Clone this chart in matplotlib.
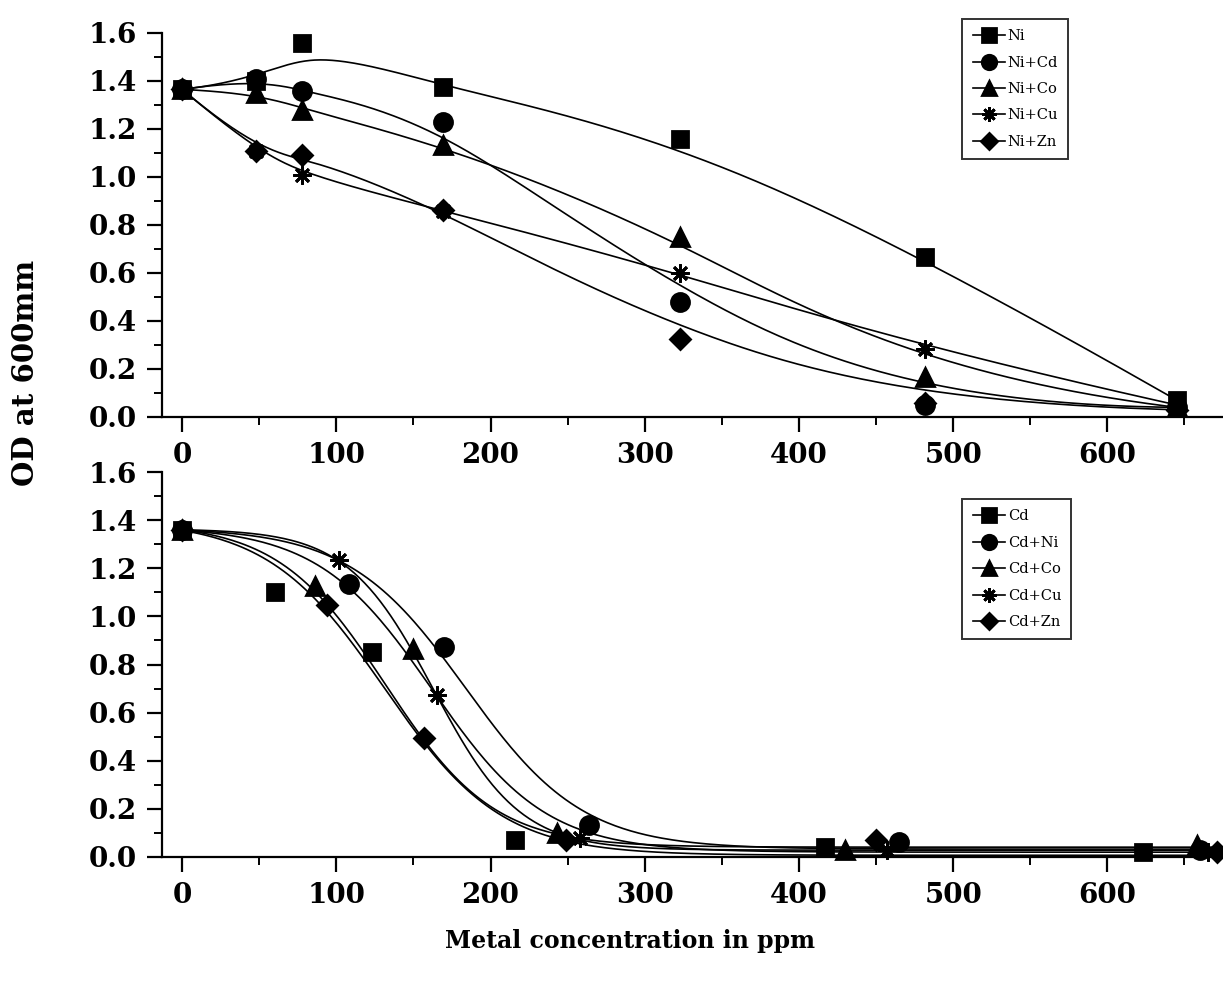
import numpy as np
import matplotlib
matplotlib.use("Agg")
import matplotlib.pyplot as plt
from matplotlib.ticker import MultipleLocator

# 上图: Ni 系列 (x 为 ppm, y 为 OD)
ni_x = [0, 48, 78, 169, 323, 482, 645]
ni = [1.365, 1.40, 1.557, 1.373, 1.16, 0.668, 0.07]
ni_cd = [1.365, 1.41, 1.358, 1.231, 0.48, 0.05, 0.04]
ni_co = [1.365, 1.35, 1.281, 1.135, 0.751, 0.168, 0.04]
ni_cu = [1.365, 1.107, 1.01, 0.86, 0.601, 0.283, 0.05]
ni_zn = [1.365, 1.107, 1.093, 0.864, 0.326, 0.058, 0.03]

# 下图: Cd 系列, 每个系列自己的 x
cd_x = [0, 60, 123, 216, 417, 623]
cd = [1.36, 1.10, 0.85, 0.07, 0.04, 0.02]
cd_ni_x = [0, 108, 170, 264, 465, 660]
cd_ni = [1.36, 1.135, 0.874, 0.133, 0.064, 0.03]
cd_co_x = [0, 86, 150, 243, 430, 658]
cd_co = [1.36, 1.126, 0.863, 0.098, 0.03, 0.05]
cd_cu_x = [0, 102, 165, 258, 457, 665]
cd_cu = [1.36, 1.234, 0.673, 0.078, 0.03, 0.02]
cd_zn_x = [0, 94, 157, 249, 450, 671]
cd_zn = [1.36, 1.047, 0.493, 0.071, 0.072, 0.02]

top_labels = ["Ni", "Ni+Cd", "Ni+Co", "Ni+Cu", "Ni+Zn"]
bottom_labels = ["Cd", "Cd+Ni", "Cd+Co", "Cd+Cu", "Cd+Zn"]
markers = ["s", "o", "^", (8, 2, 0), "D"]
msizes = [12, 13, 13, 13, 10]

FONT = "DejaVu Serif"


def bspline(xs, ys, k=3, num=300):
    # 以数据点作控制点的三次B样条
    xs = np.asarray(xs, float)
    ys = np.asarray(ys, float)
    n = len(xs)
    t = np.concatenate([[0.0] * k, np.linspace(0, 1, n - k + 1), [1.0] * k])
    u = np.linspace(0, 1, num)
    B = np.zeros((num, len(t) - 1))
    for i in range(len(t) - 1):
        B[:, i] = (u >= t[i]) & (u < t[i + 1])
    B[-1, :] = 0
    B[-1, n - 1] = 1
    for p in range(1, k + 1):
        Bn = np.zeros((num, len(t) - 1 - p))
        for i in range(len(t) - 1 - p):
            d1 = t[i + p] - t[i]
            d2 = t[i + p + 1] - t[i + 1]
            a = (u - t[i]) / d1 * B[:, i] if d1 > 0 else 0
            b = (t[i + p + 1] - u) / d2 * B[:, i + 1] if d2 > 0 else 0
            Bn[:, i] = a + b
        B = Bn
    return B @ xs, B @ ys


def boltzmann(xs, ys, xx):
    # 网格搜索 x0, dx, A1/A2 用加权最小二乘求 (起点权重大)
    xs = np.asarray(xs, float)
    ys = np.asarray(ys, float)
    w = np.ones_like(xs)
    w[0] = 30.0
    X0, DX = np.meshgrid(np.arange(40, 300, 1.0), np.arange(5, 120, 1.0))
    X0 = X0.ravel()[:, None]
    DX = DX.ravel()[:, None]
    s = 1 / (1 + np.exp((xs[None, :] - X0) / DX))
    r = 1 - s
    a = (w * s * s).sum(1)
    b = (w * s * r).sum(1)
    c = (w * r * r).sum(1)
    p = (w * s * ys).sum(1)
    q = (w * r * ys).sum(1)
    det = a * c - b * b
    det[det == 0] = 1e-12
    A1 = (p * c - b * q) / det
    A2 = (a * q - b * p) / det
    err = (w * (A1[:, None] * s + A2[:, None] * r - ys) ** 2).sum(1)
    j = np.argmin(err)
    x0, dx = X0[j, 0], DX[j, 0]
    return A2[j] + (A1[j] - A2[j]) / (1 + np.exp((xx - x0) / dx))


def style_axes(ax):
    ax.set_xlim(-13, 675)
    ax.set_ylim(0, 1.6)
    ax.spines["top"].set_visible(False)
    ax.spines["right"].set_visible(False)
    ax.spines["left"].set_linewidth(1.6)
    ax.spines["bottom"].set_linewidth(1.6)
    ax.xaxis.set_major_locator(MultipleLocator(100))
    ax.xaxis.set_minor_locator(MultipleLocator(50))
    ax.yaxis.set_major_locator(MultipleLocator(0.2))
    ax.yaxis.set_minor_locator(MultipleLocator(0.1))
    ax.tick_params(which="major", direction="out", length=11, width=1.6, pad=7)
    ax.tick_params(which="minor", direction="out", length=6, width=1.4)
    ax.set_yticks(np.arange(0, 1.61, 0.2))
    ax.set_yticklabels(["%.1f" % v for v in np.arange(0, 1.61, 0.2)])
    for lab in ax.get_xticklabels() + ax.get_yticklabels():
        lab.set_fontfamily(FONT)
        lab.set_fontweight("bold")
        lab.set_fontsize(20)


def add_legend(ax, handles, labels, y_top):
    leg = ax.legend(handles, labels, loc="upper left",
                    bbox_to_anchor=(0.781, y_top), bbox_transform=ax.figure.transFigure,
                    numpoints=1, handlelength=2.2, handletextpad=0.2,
                    labelspacing=0.85, borderpad=0.7, fancybox=False,
                    prop={"family": FONT, "size": 10.5}, markerscale=0.8)
    leg.get_frame().set_edgecolor("black")
    leg.get_frame().set_linewidth(1.4)


fig = plt.figure(figsize=(12.23, 9.82), dpi=100)
ax1 = fig.add_axes([0.1325, 0.5754, 0.8675, 0.391])
ax2 = fig.add_axes([0.1325, 0.1273, 0.8675, 0.392])

# 上图
handles = []
for ys, m, ms in zip([ni, ni_cd, ni_co, ni_cu, ni_zn], markers, msizes):
    cx, cy = bspline(ni_x, ys)
    ax1.plot(cx, cy, color="black", lw=1.2)
    ax1.plot(ni_x, ys, linestyle="none", marker=m, ms=ms, color="black",
             mec="black", mew=2)
    h, = ax1.plot([], [], color="black", lw=1.2, marker=m, ms=ms, mew=2)
    handles.append(h)
style_axes(ax1)
add_legend(ax1, handles, top_labels, 0.988)

# 下图
xx = np.linspace(0, 675, 400)
handles = []
for xs, ys, m, ms in zip([cd_x, cd_ni_x, cd_co_x, cd_cu_x, cd_zn_x],
                         [cd, cd_ni, cd_co, cd_cu, cd_zn], markers, msizes):
    ax2.plot(xx, boltzmann(xs, ys, xx), color="black", lw=1.2)
    ax2.plot(xs, ys, linestyle="none", marker=m, ms=ms, color="black",
             mec="black", mew=2, clip_on=False)
    h, = ax2.plot([], [], color="black", lw=1.2, marker=m, ms=ms, mew=2)
    handles.append(h)
style_axes(ax2)
add_legend(ax2, handles, bottom_labels, 0.499)

fig.text(0.021, 0.62, "OD at 600mm", rotation=90, ha="center", va="center",
         family=FONT, fontweight="bold", fontsize=21)
fig.text(0.515, 0.042, "Metal concentration in ppm", ha="center", va="center",
         family=FONT, fontweight="bold", fontsize=17)

fig.savefig("out.png", dpi=100)
